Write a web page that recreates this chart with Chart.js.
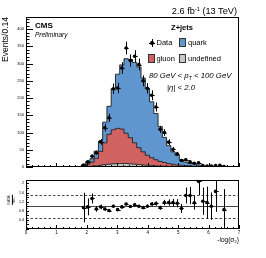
<!DOCTYPE html>
<html>
<head>
<meta charset="utf-8">
<script src="https://cdn.jsdelivr.net/npm/chart.js@4.4.1/dist/chart.umd.min.js"></script>
<style>
body { margin:0; width:266px; height:258px; background:#fff; overflow:hidden; position:relative; font-family:"Liberation Sans", Arial, sans-serif; }
canvas { position:absolute; left:0; }
#mainChart { top:0; }
#ratioChart { top:172px; }
.txt { position:absolute; white-space:nowrap; line-height:1; color:#000; }
.box { position:absolute; border:1px solid #333; box-sizing:border-box; }
</style>
</head>
<body>
<canvas id="mainChart" width="266" height="172"></canvas>
<canvas id="ratioChart" width="266" height="86"></canvas>

<div class="txt" style="right:29px;top:6.5px;font-size:9.2px">2.6 fb<span style="font-size:0.62em;vertical-align:0.55em;line-height:0">-1</span> (13 TeV)</div>
<div class="txt" style="left:35px;top:22px;font-size:8px;font-weight:bold">CMS</div>
<div class="txt" style="left:35px;top:31.8px;font-size:6.5px;font-style:italic">Preliminary</div>

<div class="txt" style="left:162px;width:40px;text-align:center;top:24.3px;font-size:7.5px;font-weight:bold">Z+jets</div>
<div style="position:absolute;left:149px;top:42.5px;width:6px;height:1px;background:#000"></div>
<div style="position:absolute;left:151.5px;top:39px;width:1px;height:8px;background:#000"></div>
<div style="position:absolute;left:150.2px;top:41.2px;width:3.6px;height:3.6px;border-radius:50%;background:#000"></div>
<div class="txt" style="left:156.5px;top:39.3px;font-size:7.5px">Data</div>
<div class="box" style="left:179px;top:38px;width:7px;height:9px;background:#5f96d0"></div>
<div class="txt" style="left:188px;top:39.3px;font-size:7.5px">quark</div>
<div class="box" style="left:148px;top:54px;width:7px;height:9px;background:#d06262"></div>
<div class="txt" style="left:156.5px;top:54.8px;font-size:7.5px">gluon</div>
<div class="box" style="left:179px;top:54px;width:7px;height:9px;background:#c8c8c8"></div>
<div class="txt" style="left:188px;top:54.8px;font-size:7.5px">undefined</div>
<div class="txt" style="left:149px;top:72.2px;font-size:7.8px;font-style:italic">80 GeV &lt; p<span style="font-size:0.65em;vertical-align:-0.3em;line-height:0">T</span> &lt; 100 GeV</div>
<div class="txt" style="left:167px;top:84.2px;font-size:7.8px;font-style:italic">|η| &lt; 2.0</div>

<div class="txt" style="left:11.5px;top:200px;font-size:3.6px;text-align:center;transform:translate(-50%,-50%) rotate(-90deg)">
  <div style="border-bottom:0.5px solid #000;padding:0 0.3px">DATA</div>
  <div>MC</div>
</div>

<script>
// binning of the -log(sigma2) histogram
const binWidth = 0.14;
const firstBin = 11; // arrays below start with bin 11 (x = 1.54 .. 1.68)

// stacked MC components, events per bin
const undefinedMC = [0, 0, 0.5, 1, 2, 3, 5, 7, 8, 9, 10, 10, 10, 9, 8, 7, 6, 5, 4, 3,
    2.5, 2, 1.5, 1, 1, 0.5, 0.5, 0.4, 0.3, 0.3, 0.2, 0.2, 0, 0, 0, 0, 0, 0];
const gluonMC = [0, 1, 3.5, 7, 12, 22, 40, 63, 87, 99, 102, 100, 88, 76, 62, 49, 38, 29, 23, 18,
    13.5, 11, 8.5, 7, 5, 4.5, 3.5, 2.6, 1.7, 1.7, 1.3, 0.8, 0.8, 0.6, 0.4, 0.3, 0, 0];
const quarkMC = [0, 0, 2.4, 7.5, 10, 21, 30, 60, 81, 119, 157, 186, 216, 227, 233, 234, 214, 194, 162, 134,
    101, 73, 52, 36, 28, 16, 10, 7, 7.5, 3.7, 1.8, 1.6, 2.2, 1.8, 1.1, 0.9, 0.5, 0];

// data and its statistical errors
const dataCounts = [null, null, 6, 15, 31, 41, 73, 114, 143, 227, 229, 287, 345, 309, 321, 297, 250, 228, 208, 174,
    109, 100, 72, 51, 38, 19, 21, 15, 11, 12, 4, 3, 3, 4, 5, 1, null, null];
const dataErrors = [null, null, 2.5, 3.9, 5.6, 6.4, 8.5, 10.7, 12, 15.1, 15.1, 16.9, 18.6, 17.6, 17.9, 17.2, 15.8, 15.1, 14.4, 13.2,
    10.4, 10, 8.5, 7.1, 6.2, 4.4, 4.6, 3.9, 3.3, 3.5, 2, 1.7, 1.7, 2, 2.2, 1, null, null];

// DATA/MC ratio
const ratioValues = [null, null, 0.94, 0.97, 1.34, 0.88, 0.97, 0.88, 0.81, 1.0, 0.85, 0.97, 1.10, 0.99, 1.06, 1.0, 0.94, 1.0, 1.10, 1.12,
    0.93, 1.16, 1.16, 1.16, 1.13, 0.90, 1.47, 1.47, 1.15, 2.09, 1.22, 1.16, 1.0, 1.65, null, 0.85, null, null];
const ratioErrors = [null, null, 0.65, 0.37, 0.22, 0.12, 0.1, 0.08, 0.07, 0.07, 0.06, 0.06, 0.06, 0.06, 0.06, 0.06, 0.06, 0.07, 0.08, 0.09,
    0.09, 0.12, 0.14, 0.16, 0.18, 0.2, 0.35, 0.38, 0.3, 0.6, 0.6, 0.7, 0.6, 0.9, null, 0.9, null, null];

const xMin = 0, xMax = 7;
const mainYMax = 435;
const ratioYMax = 2.15;

function binCenter(i) {
    return (firstBin + i + 0.5) * binWidth;
}

function toPoints(values) {
    return values.map((v, i) => ({ x: binCenter(i), y: v }));
}

// ROOT style frame with inward tick marks
const frameTicks = {
    id: 'frameTicks',
    afterDraw(chart, args, o) {
        const { ctx, chartArea: a } = chart;
        const xs = chart.scales.x, ys = chart.scales.y;
        ctx.save();
        ctx.strokeStyle = '#000';
        ctx.lineWidth = 1;
        ctx.beginPath();
        for (let j = 0; j * o.xMinor <= xMax + 1e-9; j++) {
            const v = j * o.xMinor;
            const px = Math.round(xs.getPixelForValue(v)) + 0.5;
            const major = Math.abs(v / o.xMajor - Math.round(v / o.xMajor)) < 1e-6;
            ctx.moveTo(px, a.bottom);
            ctx.lineTo(px, a.bottom - (major ? o.xMajorLen : o.xMinorLen));
        }
        for (let j = 0; j * o.yMinor <= o.yMax + 1e-9; j++) {
            const v = j * o.yMinor;
            const py = Math.round(ys.getPixelForValue(v)) + 0.5;
            const major = Math.abs(v / o.yMajor - Math.round(v / o.yMajor)) < 1e-6;
            ctx.moveTo(a.left, py);
            ctx.lineTo(a.left + (major ? o.yMajorLen : o.yMinorLen), py);
        }
        ctx.stroke();
        ctx.strokeRect(Math.round(a.left) + 0.5, Math.round(a.top) + 0.5,
            Math.round(a.right - a.left) - 1, Math.round(a.bottom - a.top) - 1);
        ctx.restore();
    }
};

// vertical error bars plus a bin-wide horizontal bar
const errorBars = {
    id: 'errorBars',
    afterDatasetsDraw(chart, args, o) {
        const { ctx, chartArea: a } = chart;
        const xs = chart.scales.x, ys = chart.scales.y;
        const hw = (xs.getPixelForValue(binWidth) - xs.getPixelForValue(0)) / 2;
        ctx.save();
        ctx.beginPath();
        ctx.rect(a.left, a.top, a.right - a.left, a.bottom - a.top);
        ctx.clip();
        ctx.strokeStyle = '#000';
        ctx.lineWidth = 1;
        ctx.beginPath();
        o.values.forEach((v, i) => {
            if (v === null) return;
            const x = Math.round(xs.getPixelForValue(binCenter(i))) + 0.5;
            const y = Math.round(ys.getPixelForValue(v)) + 0.5;
            ctx.moveTo(x, ys.getPixelForValue(v - o.errors[i]));
            ctx.lineTo(x, ys.getPixelForValue(v + o.errors[i]));
            ctx.moveTo(x - hw, y);
            ctx.lineTo(x + hw, y);
        });
        ctx.stroke();
        ctx.restore();
    }
};

// reference lines of the ratio panel
const ratioLines = {
    id: 'ratioLines',
    beforeDatasetsDraw(chart) {
        const { ctx, chartArea: a } = chart;
        const ys = chart.scales.y;
        ctx.save();
        ctx.lineWidth = 1;
        ctx.strokeStyle = '#444';
        [0.5, 1.5].forEach(v => {
            const y = Math.round(ys.getPixelForValue(v)) + 0.5;
            ctx.setLineDash([2.5, 2]);
            ctx.beginPath();
            ctx.moveTo(a.left, y);
            ctx.lineTo(a.right, y);
            ctx.stroke();
        });
        ctx.setLineDash([]);
        const y1 = Math.round(ys.getPixelForValue(1)) + 0.5;
        ctx.beginPath();
        ctx.moveTo(a.left, y1);
        ctx.lineTo(a.right, y1);
        ctx.stroke();
        ctx.restore();
    }
};

const tickFont = { family: 'Liberation Sans', size: 4 };

function mcDataset(label, values, color) {
    return {
        label: label,
        data: toPoints(values),
        stack: 'mc',
        stepped: 'middle',
        fill: 'origin',
        backgroundColor: color,
        borderColor: '#2a2a2a',
        borderWidth: 1,
        pointRadius: 0
    };
}

function initCharts() {
    new Chart(document.getElementById('mainChart'), {
        type: 'line',
        data: {
            datasets: [
                mcDataset('undefined', undefinedMC, '#c8c8c8'),
                mcDataset('gluon', gluonMC, '#d06262'),
                mcDataset('quark', quarkMC, '#5f96d0'),
                {
                    label: 'Data',
                    data: toPoints(dataCounts),
                    stack: 'data',
                    order: -1,
                    showLine: false,
                    pointRadius: 1.8,
                    pointBackgroundColor: '#000',
                    pointBorderWidth: 0
                }
            ]
        },
        options: {
            responsive: false,
            animation: false,
            events: [],
            layout: { padding: { left: 0, right: 27, top: 17, bottom: 0 } },
            plugins: {
                legend: { display: false },
                tooltip: { enabled: false },
                frameTicks: { xMajor: 1, xMinor: 0.2, xMajorLen: 4, xMinorLen: 2,
                              yMax: 430, yMajor: 50, yMinor: 10, yMajorLen: 7, yMinorLen: 3.5 },
                errorBars: { values: dataCounts, errors: dataErrors }
            },
            scales: {
                x: {
                    type: 'linear', min: xMin, max: xMax,
                    ticks: { display: false },
                    grid: { display: false, drawTicks: false },
                    border: { display: false },
                    afterFit: s => { s.height = 5; }
                },
                y: {
                    type: 'linear', stacked: true, min: 0, max: mainYMax,
                    ticks: { stepSize: 50, includeBounds: false, padding: 2, color: '#000', font: tickFont },
                    grid: { display: false, drawTicks: false },
                    border: { display: false },
                    title: { display: true, text: 'Events/0.14', align: 'end', color: '#000',
                             font: { family: 'Liberation Sans', size: 8.5 }, padding: { top: 1, bottom: 0 } },
                    afterFit: s => { s.width = 26; }
                }
            }
        },
        plugins: [frameTicks, errorBars]
    });

    new Chart(document.getElementById('ratioChart'), {
        type: 'scatter',
        data: {
            datasets: [{
                label: 'DATA/MC',
                data: toPoints(ratioValues),
                pointRadius: 1.8,
                pointBackgroundColor: '#000',
                pointBorderWidth: 0
            }]
        },
        options: {
            responsive: false,
            animation: false,
            events: [],
            layout: { padding: { left: 0, right: 27, top: 8, bottom: 0 } },
            plugins: {
                legend: { display: false },
                tooltip: { enabled: false },
                frameTicks: { xMajor: 1, xMinor: 0.2, xMajorLen: 4, xMinorLen: 2,
                              yMax: 2, yMajor: 0.2, yMinor: 0.1, yMajorLen: 3, yMinorLen: 1.5 },
                errorBars: { values: ratioValues, errors: ratioErrors }
            },
            scales: {
                x: {
                    type: 'linear', min: xMin, max: xMax,
                    ticks: { stepSize: 1, padding: 1, color: '#000', font: { family: 'Liberation Sans', size: 4.5 } },
                    grid: { display: false, drawTicks: false },
                    border: { display: false },
                    title: { display: true, text: '-log(σ₂)', align: 'end', color: '#000',
                             font: { family: 'Liberation Sans', size: 6.5 }, padding: { top: 0, bottom: 14 } },
                    afterFit: s => { s.height = 29; }
                },
                y: {
                    type: 'linear', min: 0, max: ratioYMax,
                    ticks: { stepSize: 0.2, includeBounds: false, padding: 2, color: '#000',
                             font: { family: 'Liberation Sans', size: 3.6 },
                             callback: v => (v === 0 ? '' : String(Math.round(v * 10) / 10)) },
                    grid: { display: false, drawTicks: false },
                    border: { display: false },
                    afterFit: s => { s.width = 26; }
                }
            }
        },
        plugins: [frameTicks, errorBars, ratioLines]
    });
}

document.addEventListener('DOMContentLoaded', initCharts);
</script>
</body>
</html>
